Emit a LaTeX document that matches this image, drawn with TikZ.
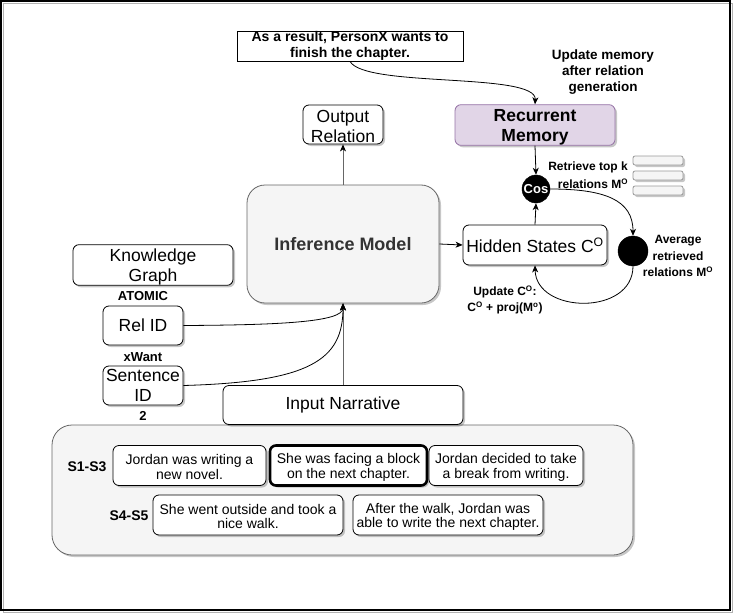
\documentclass[tikz,border=0pt]{standalone}
\usepackage{fontspec}
\setmainfont{Liberation Sans}
\usetikzlibrary{arrows.meta,shadows}
\definecolor{memfill}{HTML}{E1D5E7}
\definecolor{memdraw}{HTML}{9673A6}
\definecolor{panel}{HTML}{F5F5F5}
\definecolor{panelline}{HTML}{666666}
\definecolor{darktext}{HTML}{333333}
\newcommand\szL{\fontsize{17.5}{20}\selectfont}
\newcommand\szM{\fontsize{14}{15.5}\selectfont}
\newcommand\szN{\fontsize{14}{14.5}\selectfont}
\newcommand\szS{\fontsize{12}{16.5}\selectfont}
\newcommand\szT{\fontsize{13.5}{16}\selectfont}
\newcommand\hgtL{\rule{0pt}{17pt}}
\newcommand\hgtM{\rule{0pt}{13.5pt}}
\tikzset{
  shad/.style={drop shadow={shadow xshift=2pt,shadow yshift=-2pt,fill=black,opacity=0.22}},
  rbox/.style={draw=black, fill=white, rounded corners=6pt, inner sep=0pt, align=center, line width=0.8pt, shad},
  sbox/.style={rbox, minimum height=40pt, font=\szN},
  lbl/.style={inner sep=0pt, align=center, font=\bfseries},
  arr/.style={-{Stealth[length=7pt,width=6pt,inset=2pt]}, line width=0.8pt},
  garr/.style={-{Stealth[length=7pt,width=6pt,inset=2pt,color=black]}, line width=0.8pt, draw=panelline},
  dot/.style={circle, fill=black, draw=black, inner sep=0pt},
  bar/.style={draw=gray!80, fill=panel, rounded corners=2pt, minimum width=50pt, minimum height=9pt, inner sep=0pt, line width=0.8pt, shad},
}
\begin{document}
\begin{tikzpicture}[x=1pt,y=-1pt]
\useasboundingbox (0,0) rectangle (733,615);
% frame
\draw[gray!60, line width=1pt] (3,3.5) rectangle (732,612);
\draw[black, line width=1.5pt] (0.8,0.8) rectangle (730,610);

% container
\node[draw=panelline, fill=panel, rounded corners=20pt, minimum width=581pt, minimum height=130pt, line width=0.8pt, shad] (cont) at (342.5,490) {};

% top sentence
\node[draw=black, fill=white, minimum width=226pt, minimum height=30pt, inner sep=0pt, align=center, line width=0.8pt, font=\szM\bfseries] (top) at (350,46) {As a result, PersonX wants to\\finish the chapter.};
\node[lbl, font=\szT\bfseries] (upd) at (603,72) {Update memory\\after relation\\generation};

% memory
\node[rbox, draw=memdraw, fill=memfill, minimum width=160pt, minimum height=40pt, font=\szL\bfseries] (rm) at (535,125) {\hgtL Recurrent\\Memory};
\node[rbox, minimum width=80pt, minimum height=39pt, font=\szL] (out) at (343,124.5) {\hgtL Output\\Relation};

% inference
\node[rbox, draw=panelline, fill=panel, rounded corners=18pt, minimum width=192pt, minimum height=118pt, font=\fontsize{18}{20}\selectfont\bfseries, text=darktext] (inf) at (343,244) {Inference Model};

% hidden states
\node[rbox, minimum width=144pt, minimum height=40pt, font=\szL] (hid) at (535,245) {Hidden States C\textsuperscript{O}};
\node[dot, minimum size=28pt, text=white, font=\fontsize{13}{14}\selectfont\bfseries] (cos) at (536,189) {Cos};
\node[dot, minimum size=30pt] (avg) at (633,251) {};

\node[lbl, font=\szS\bfseries] (ret1) at (588,167) {Retrieve top k};
\node[lbl, font=\szS\bfseries] (ret2) at (593,184) {relations M\textsuperscript{O}};
\node[bar] (bar1) at (658,160.5) {};
\node[bar] (bar2) at (658,175.5) {};
\node[bar] (bar3) at (658,190.5) {};
\node[lbl, font=\szS\bfseries] (avgl) at (678,256) {Average\\retrieved\\relations M\textsuperscript{O}};
\node[lbl, font=\szS\bfseries] (updc) at (505,300) {Update C\textsuperscript{O}:\\C\textsuperscript{O} + proj(M\textsuperscript{o})};

% left side
\node[rbox, minimum width=160pt, minimum height=40pt, font=\szL] (kg) at (153,265) {\hgtL Knowledge\\Graph};
\node[lbl, font=\fontsize{13}{14}\selectfont\bfseries] (atomic) at (143,296) {ATOMIC};
\node[rbox, minimum width=80pt, minimum height=39pt, font=\szL] (rel) at (143,325.5) {Rel ID};
\node[lbl, font=\fontsize{13}{14}\selectfont\bfseries] (xw) at (143,357) {xWant};
\node[rbox, minimum width=80pt, minimum height=39pt, font=\szL] (sent) at (143,385.5) {Sentence\\ID};
\node[lbl, font=\fontsize{13}{14}\selectfont\bfseries] (two) at (143,416) {2};
\node[rbox, minimum width=240pt, minimum height=39pt, font=\szL] (inp) at (343,405) {Input Narrative};

% sentences
\node[lbl, font=\szM\bfseries] (s13) at (87,467) {S1-S3};
\node[lbl, font=\szM\bfseries] (s45) at (129,516) {S4-S5};
\node[sbox, minimum width=153pt] (b1) at (189.5,465.5) {\hgtM Jordan was writing a\\new novel.};
\node[sbox, minimum width=157pt, line width=2.6pt] (b2) at (348.5,465.5) {\hgtM She was facing a block\\on the next chapter.};
\node[sbox, minimum width=154pt] (b3) at (506,465.5) {\hgtM Jordan decided to take\\a break from writing.};
\node[sbox, minimum width=190pt] (b4) at (248,515) {\hgtM She went outside and took a\\nice walk.};
\node[sbox, minimum width=190pt] (b5) at (448,515) {\hgtM After the walk, Jordan was\\able to write the next chapter.};

% connectors
\draw[arr] (top.south) .. controls (365,88) and (537,72) .. (rm.north);
\draw[arr] (rm.south) -- (cos.north);
\draw[arr] (hid.north) -- (cos.south);
\draw[arr] (cos.east) .. controls (605,189) and (633,200) .. (avg.north);
\draw[arr] (avg.south) .. controls (633,316) and (536,314) .. (hid.south);
\draw[arr] (inf.east) -- (hid.west);
\draw[garr] (inf.north) -- (out.south);
\draw[garr] (inp.north) -- (inf.south);
\draw[arr] (rel.east) .. controls (280,325) and (343,322) .. (inf.south);
\draw[arr] (sent.east) .. controls (310,382) and (343,360) .. (inf.south);
\end{tikzpicture}
\end{document}
